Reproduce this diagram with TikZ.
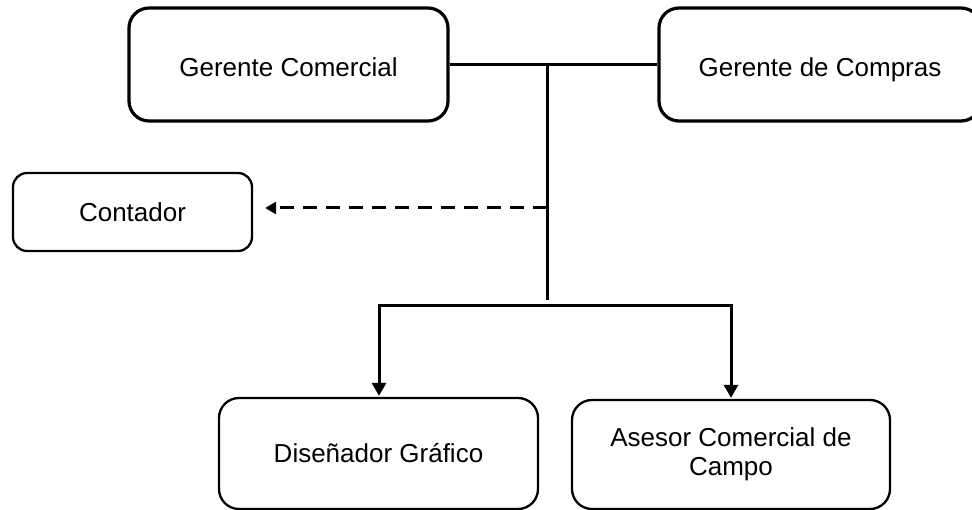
\documentclass[tikz,border=0pt]{standalone}
\usepackage{fontspec}
\setmainfont{Liberation Sans}
\usetikzlibrary{arrows.meta}
\begin{document}
\begin{tikzpicture}[x=1pt,y=-1pt,
  box/.style={draw, rounded corners=20pt, line width=2.3pt, align=center, inner sep=0pt, font=\fontsize{26}{29}\selectfont},
  topbox/.style={box, line width=3.2pt, text height=25pt, text depth=0pt},
  link/.style={line width=3pt},
  tipdown/.style={{Triangle[length=13pt,width=14pt]}-{Triangle[length=13pt,width=14pt]}},
  tipleft/.style={-{Triangle[length=11pt,width=12pt]}}]
\clip (0,0) rectangle (972,510);
\node[topbox, minimum width=319pt, minimum height=113pt] (gc) at (288.5,64.5) {Gerente Comercial};
\node[topbox, minimum width=322pt, minimum height=113pt] (gcomp) at (820,64.5) {Gerente de Compras};
\node[box, rounded corners=14pt, minimum width=239pt, minimum height=78pt] (cont) at (132.5,212) {Contador};
\node[box, minimum width=319pt, minimum height=111pt] (dis) at (378.5,453.5) {Diseñador Gráfico};
\node[box, minimum width=318pt, minimum height=109pt] (ase) at (731,454.5) {Asesor Comercial de\\Campo};
\coordinate (j1) at (547,64.5);
\coordinate (j2) at (547,300);
\coordinate (jd) at (547,208);
\coordinate (bl) at (379,306);
\coordinate (br) at (731,306);
\draw[link] (gc.east) -- (gcomp.west);
\draw[link] (j1) -- (j2);
\draw[link, dash pattern=on 14pt off 9pt, tipleft, shorten >=12pt] (jd) -- (jd -| cont.east);
\draw[link, tipdown, shorten <=1pt, shorten >=1pt] (bl |- dis.north) -- (bl) -- (br) -- (br |- ase.north);
\end{tikzpicture}
\end{document}
